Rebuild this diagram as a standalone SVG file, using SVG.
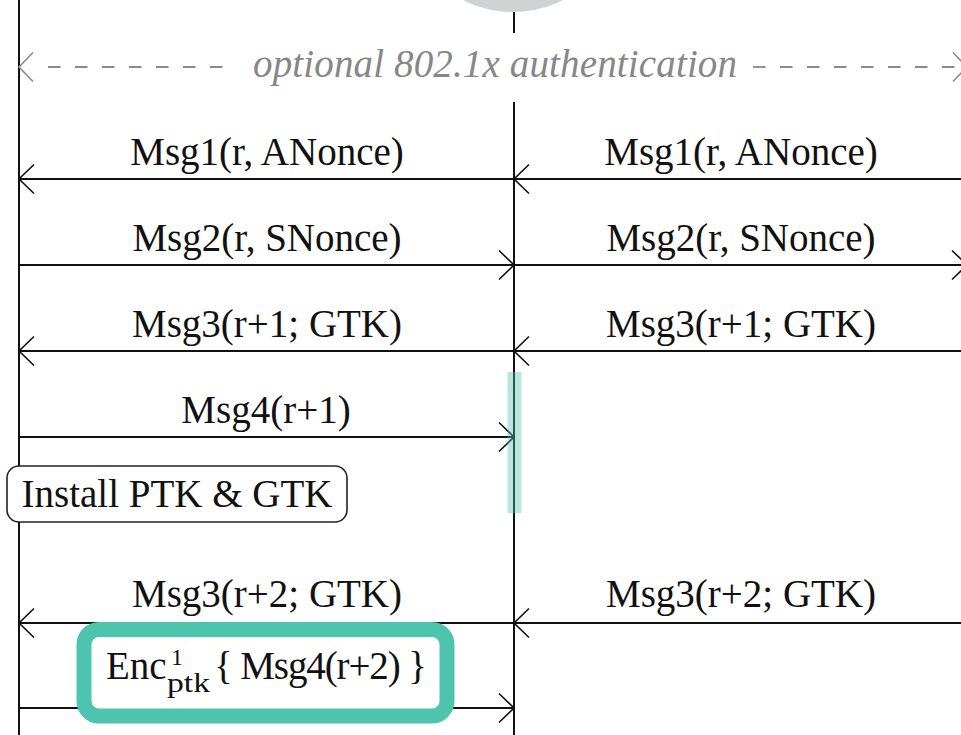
<svg xmlns="http://www.w3.org/2000/svg" width="961" height="735" viewBox="0 0 961 735">
  <style>
    .life { stroke: #111; stroke-width: 2; fill: none; }
    .msg { stroke: #111; stroke-width: 1.8; fill: none; }
    .dash { stroke: #8a8a8a; stroke-width: 1.8; fill: none; stroke-dasharray: 12.5 14.5; }
    .lbl { font-family: "Liberation Serif", serif; font-size: 39px; fill: #111; text-anchor: middle; }
    .plain { font-family: "Liberation Serif", serif; fill: #111; }
    .auth { font-family: "Liberation Serif", serif; font-style: italic; font-size: 39px; fill: #878787; text-anchor: middle; }
  </style>
  <defs>
    <marker id="head" viewBox="-17 -17 19 34" refX="0" refY="0" markerWidth="19" markerHeight="34" markerUnits="userSpaceOnUse" orient="auto" overflow="visible">
      <path d="M-15,-14.5 L0,0 L-15,14.5" fill="none" stroke="#111" stroke-width="1.6"/>
    </marker>
    <marker id="headGray" viewBox="-17 -17 19 34" refX="0" refY="0" markerWidth="19" markerHeight="34" markerUnits="userSpaceOnUse" orient="auto" overflow="visible">
      <path d="M-14,-14.5 L0,0 L-14,14.5" fill="none" stroke="#8a8a8a" stroke-width="1.6"/>
    </marker>
  </defs>

  <rect width="961" height="735" fill="#fff"/>

  <!-- lifelines -->
  <g id="lifelines">
    <line class="life" x1="19" y1="0" x2="19" y2="735"/>
    <line class="life" x1="514" y1="0" x2="514" y2="33"/>
    <line class="life" x1="514" y1="102" x2="514" y2="735"/>
  </g>

  <!-- participant head, cut off at the top edge -->
  <g id="ap-head">
    <circle cx="513" cy="-98" r="110" fill="#cfd3d4"/>
  </g>

  <!-- optional authentication span -->
  <g id="auth">
    <line class="dash" x1="48" y1="67" x2="226" y2="67"/>
    <line x1="34" y1="67" x2="19" y2="67" stroke="none" marker-end="url(#headGray)"/>
    <line class="dash" x1="753" y1="67" x2="967" y2="67" marker-end="url(#headGray)"/>
    <text class="auth" x="495" y="77" textLength="484">optional 802.1x authentication</text>
  </g>

  <!-- message arrows -->
  <g id="connectors">
    <line class="msg" x1="514" y1="179" x2="19" y2="179" marker-end="url(#head)"/>
    <line class="msg" x1="967" y1="179" x2="514" y2="179" marker-end="url(#head)"/>
    <line class="msg" x1="19" y1="265" x2="514" y2="265" marker-end="url(#head)"/>
    <line class="msg" x1="514" y1="265" x2="967" y2="265" marker-end="url(#head)"/>
    <line class="msg" x1="514" y1="351" x2="19" y2="351" marker-end="url(#head)"/>
    <line class="msg" x1="967" y1="351" x2="514" y2="351" marker-end="url(#head)"/>
    <line class="msg" x1="19" y1="437" x2="514" y2="437" marker-end="url(#head)"/>
    <line class="msg" x1="514" y1="623" x2="19" y2="623" marker-end="url(#head)"/>
    <line class="msg" x1="967" y1="623" x2="514" y2="623" marker-end="url(#head)"/>
    <line class="msg" x1="19" y1="708" x2="514" y2="708" marker-end="url(#head)"/>
  </g>

  <!-- message labels -->
  <g id="labels">
    <text class="lbl" x="267" y="165">Msg1(r, ANonce)</text>
    <text class="lbl" x="741" y="165">Msg1(r, ANonce)</text>
    <text class="lbl" x="267" y="251">Msg2(r, SNonce)</text>
    <text class="lbl" x="741" y="251">Msg2(r, SNonce)</text>
    <text class="lbl" x="267" y="337">Msg3(r+1; GTK)</text>
    <text class="lbl" x="741" y="337">Msg3(r+1; GTK)</text>
    <text class="lbl" x="266" y="423">Msg4(r+1)</text>
    <text class="lbl" x="267" y="607">Msg3(r+2; GTK)</text>
    <text class="lbl" x="741" y="607">Msg3(r+2; GTK)</text>
  </g>

  <!-- highlight on the AP lifeline -->
  <g id="highlight">
    <rect x="507.5" y="372" width="14" height="141" fill="#4fc4ad" fill-opacity="0.4"/>
  </g>

  <!-- install action -->
  <g id="install">
    <rect x="7" y="466" width="340" height="56" rx="12" ry="12" fill="#fff" stroke="#222" stroke-width="1.6"/>
    <text class="lbl" x="177" y="507">Install PTK &amp; GTK</text>
  </g>

  <!-- encrypted Msg4 -->
  <g id="enc-msg4">
    <rect x="84" y="629.5" width="363" height="86.5" rx="15" ry="15" fill="#fff" stroke="#4dc4ae" stroke-width="15"/>
    <text class="plain" x="106" y="679" font-size="39">Enc</text>
    <text class="plain" x="171" y="665" font-size="24">1</text>
    <text class="plain" x="167" y="692" font-size="27" textLength="43" lengthAdjust="spacingAndGlyphs">ptk</text>
    <text class="plain" x="214" y="679" font-size="39" textLength="213">{ Msg4(r+2) }</text>
  </g>
</svg>
